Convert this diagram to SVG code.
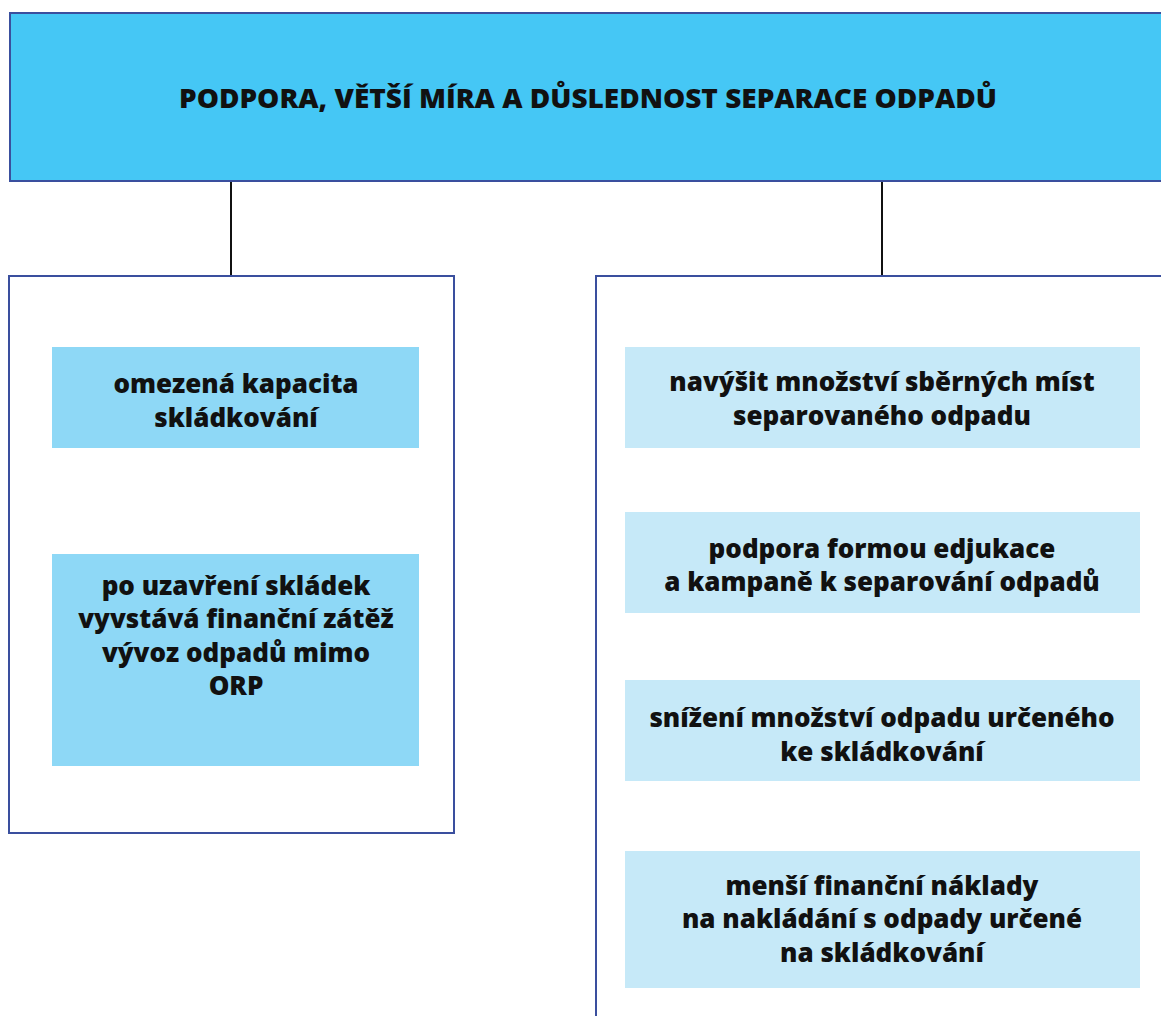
<svg xmlns="http://www.w3.org/2000/svg" width="1161" height="1016" viewBox="0 0 1161 1016">
<style>
.frame{fill:#ffffff;stroke:#3a4f9e;stroke-width:2}
.top{fill:#45c7f5;stroke:#3a4f9e;stroke-width:2}
.dark{fill:#8ed8f6}
.light{fill:#c6e9f8}
.conn{stroke:#111;stroke-width:2;fill:none}
text{font-family:"Open Sans","Liberation Sans",sans-serif;font-weight:800;fill:#111;text-anchor:middle}
.t{font-size:26px}
.h{font-size:26px}
</style>
<rect width="1161" height="1016" fill="#ffffff"/>
<g id="connectors">
<line class="conn" x1="231" y1="181" x2="231" y2="276"/>
<line class="conn" x1="882" y1="181" x2="882" y2="276"/>
</g>
<g id="title">
<rect class="top" x="10" y="13" width="1160" height="168"/>
<text class="h" x="588" y="108" textLength="818" lengthAdjust="spacingAndGlyphs">PODPORA, VĚTŠÍ MÍRA A DŮSLEDNOST SEPARACE ODPADŮ</text>
</g>
<g id="left-panel">
<rect class="frame" x="9" y="276" width="445" height="557"/>
</g>
<g id="right-panel">
<rect class="frame" x="596" y="276" width="600" height="800"/>
</g>
<g id="l1">
<rect class="dark" x="52" y="347" width="367" height="101"/>
<text class="t" x="236" y="393">omezená kapacita</text>
<text class="t" x="236" y="427">skládkování</text>
</g>
<g id="l2">
<rect class="dark" x="52" y="554" width="367" height="212"/>
<text class="t" x="236" y="595">po uzavření skládek</text>
<text class="t" x="236" y="628">vyvstává finanční zátěž</text>
<text class="t" x="236" y="662">vývoz odpadů mimo</text>
<text class="t" x="236" y="695">ORP</text>
</g>
<g id="r1">
<rect class="light" x="625" y="347" width="515" height="101"/>
<text class="t" x="882" y="391">navýšit množství sběrných míst</text>
<text class="t" x="882" y="425">separovaného odpadu</text>
</g>
<g id="r2">
<rect class="light" x="625" y="512" width="515" height="101"/>
<text class="t" x="882" y="558">podpora formou edjukace</text>
<text class="t" x="882" y="591">a kampaně k separování odpadů</text>
</g>
<g id="r3">
<rect class="light" x="625" y="680" width="515" height="101"/>
<text class="t" x="882" y="727">snížení množství odpadu určeného</text>
<text class="t" x="882" y="761">ke skládkování</text>
</g>
<g id="r4">
<rect class="light" x="625" y="851" width="515" height="137"/>
<text class="t" x="882" y="895">menší finanční náklady</text>
<text class="t" x="882" y="928">na nakládání s odpady určené</text>
<text class="t" x="882" y="962">na skládkování</text>
</g>
</svg>
